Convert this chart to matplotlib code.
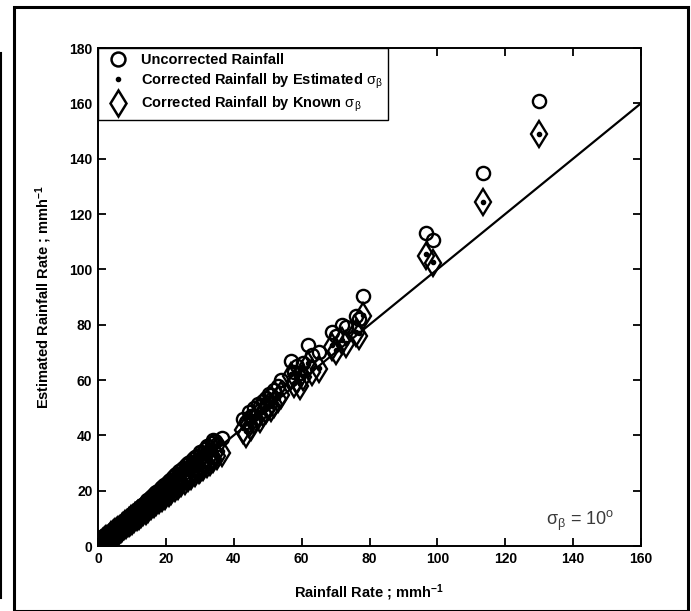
import matplotlib
matplotlib.use("Agg")
import matplotlib.pyplot as plt
from matplotlib.lines import Line2D
from matplotlib.patches import Rectangle

plt.rcParams['font.family'] = ['Liberation Sans', 'DejaVu Sans']
plt.rcParams['mathtext.fontset'] = 'custom'
plt.rcParams['mathtext.rm'] = 'Liberation Sans'
plt.rcParams['mathtext.it'] = 'Liberation Sans:italic'
plt.rcParams['mathtext.bf'] = 'Liberation Sans:bold'

# ---------------- data ----------------
rain_rate = [0.2, 0.4, 0.6, 0.8, 1.0, 1.3, 1.6, 1.9, 2.2, 2.5, 2.8, 3.1, 3.5, 3.9, 4.3,
             4.7, 5.1, 5.5, 6.0, 6.5, 7.0, 7.5, 8.0, 8.6, 9.2, 9.8, 10.4, 11.0, 11.7,
             12.4, 13.1, 13.8, 14.5, 15.3, 16.1, 16.9, 17.7, 18.5, 19.4, 20.3, 21.2,
             22.1, 23.0, 24.0, 25.0, 26.0, 27.0, 28.0, 29.2, 30.4, 31.5, 32.5, 33.5,
             34.5, 36.5,
             0.5, 1.1, 2.0, 3.0, 4.0, 5.0, 6.2, 7.2, 8.3, 9.5, 10.7, 12.0, 13.4, 14.8,
             16.5, 18.0, 19.8, 21.6, 23.5, 25.5, 27.5, 29.8, 31.0, 33.0, 35.0,
             0.3, 0.9, 1.5, 2.4, 3.3, 4.5, 5.6, 6.8, 7.8, 9.0, 10.1, 11.4, 12.8, 14.0,
             15.7, 17.2, 18.9, 20.8, 22.6, 24.5, 26.5, 28.6, 30.0, 32.0, 34.0,
             42.8, 43.5, 44.5, 45.2, 46.0, 47.0, 47.8, 48.5, 49.5, 50.3, 51.0, 52.0,
             53.0, 54.0, 57.0, 57.8, 58.5, 59.5, 60.5, 62.0, 63.0, 65.0, 69.0, 70.0,
             72.0, 73.0, 76.0, 77.0, 78.0, 96.6, 98.7, 113.4, 130.0]

uncorrected = [0.3, 0.5, 0.8, 1.0, 1.3, 1.6, 2.0, 2.3, 2.7, 3.0, 3.4, 3.7, 4.2, 4.6, 5.1,
               5.5, 6.0, 6.4, 7.0, 7.5, 8.1, 8.6, 9.2, 9.9, 10.5, 11.2, 11.9, 12.6, 13.4,
               14.1, 14.9, 15.7, 16.5, 17.4, 18.3, 19.2, 20.0, 20.9, 21.9, 22.9, 23.9,
               24.9, 25.9, 27.0, 28.1, 29.2, 30.3, 31.4, 32.7, 34.0, 35.2, 36.3, 37.4,
               38.0, 39.0,
               0.6, 1.2, 2.1, 3.2, 4.3, 5.3, 6.6, 7.6, 8.8, 10.0, 11.3, 12.7, 14.1, 15.6,
               17.4, 19.0, 20.9, 22.8, 24.8, 26.9, 29.0, 31.4, 32.7, 34.8, 36.9,
               0.4, 1.1, 1.8, 2.8, 3.8, 5.1, 6.3, 7.7, 8.8, 10.1, 11.4, 12.9, 14.4, 15.8,
               17.7, 19.4, 21.3, 23.5, 25.5, 27.6, 29.9, 32.2, 33.8, 36.0, 38.2,
               46.0, 45.0, 48.5, 47.0, 50.0, 51.5, 50.5, 52.5, 53.5, 55.0, 54.5, 56.5,
               58.0, 60.0, 67.0, 63.0, 65.0, 62.5, 66.0, 72.5, 69.0, 70.0, 77.5, 76.0,
               80.0, 79.0, 83.0, 82.0, 90.5, 113.0, 110.5, 134.8, 161.0]

corrected_est = [0.2, 0.4, 0.6, 0.8, 1.0, 1.3, 1.6, 1.9, 2.2, 2.5, 2.8, 3.1, 3.6, 3.9, 4.4,
                 4.8, 5.2, 5.6, 6.1, 6.6, 7.1, 7.6, 8.1, 8.7, 9.3, 9.9, 10.5, 11.2, 11.9,
                 12.6, 13.3, 14.0, 14.7, 15.5, 16.3, 17.1, 17.9, 18.7, 19.6, 20.5, 21.4,
                 22.3, 23.2, 24.2, 25.2, 26.2, 27.2, 28.2, 29.4, 30.6, 31.7, 32.7, 33.7,
                 34.7, 34.5,
                 0.4, 1.0, 1.8, 2.8, 3.7, 4.6, 5.8, 6.7, 7.7, 8.8, 9.9, 11.1, 12.4, 13.7,
                 15.3, 16.7, 18.4, 20.1, 21.9, 23.7, 25.6, 27.7, 28.8, 30.7, 32.6,
                 0.3, 0.9, 1.5, 2.4, 3.3, 4.5, 5.6, 6.8, 7.8, 9.0, 10.1, 11.4, 12.8, 14.0,
                 15.7, 17.2, 18.9, 20.8, 22.6, 24.5, 26.5, 28.6, 30.0, 32.0, 34.0,
                 42.5, 41.5, 44.5, 43.5, 46.0, 47.5, 46.5, 48.5, 49.5, 51.0, 50.5, 52.0,
                 53.5, 55.0, 62.0, 59.0, 60.5, 58.5, 61.5, 66.0, 64.0, 64.5, 72.5, 71.0,
                 74.5, 73.5, 77.5, 77.0, 83.5, 105.5, 102.5, 124.5, 149.0]

corrected_known = [0.2, 0.4, 0.5, 0.8, 0.9, 1.2, 1.5, 1.8, 2.1, 2.4, 2.7, 3.0, 3.4, 3.8, 4.2,
                   4.6, 5.0, 5.4, 5.9, 6.3, 6.8, 7.3, 7.8, 8.4, 9.0, 9.6, 10.1, 10.7, 11.4,
                   12.1, 12.8, 13.5, 14.1, 14.9, 15.7, 16.5, 17.3, 18.0, 18.9, 19.8, 20.7,
                   21.6, 22.4, 23.4, 24.4, 25.4, 26.3, 27.3, 28.5, 29.7, 30.7, 31.7, 32.7,
                   33.7, 33.6,
                   0.4, 0.9, 1.7, 2.7, 3.6, 4.5, 5.6, 6.5, 7.5, 8.6, 9.7, 10.9, 12.2, 13.5,
                   15.1, 16.5, 18.2, 19.9, 21.7, 23.5, 25.4, 27.5, 28.6, 30.5, 32.4,
                   0.2, 0.8, 1.3, 2.2, 3.0, 4.1, 5.1, 6.2, 7.1, 8.2, 9.2, 10.4, 11.7, 12.8,
                   14.4, 15.8, 17.4, 19.1, 20.8, 22.6, 24.4, 26.4, 27.7, 29.6, 31.5,
                   42.0, 40.5, 44.0, 43.0, 45.5, 47.0, 46.0, 48.0, 49.0, 50.5, 50.0, 51.5,
                   53.0, 54.5, 61.5, 58.5, 60.0, 58.0, 61.0, 65.5, 63.0, 64.0, 72.0, 70.5,
                   74.0, 73.0, 77.0, 76.0, 83.0, 105.0, 102.3, 124.3, 148.8]

one_to_one = [0, 160]

x_ticks = [0, 20, 40, 60, 80, 100, 120, 140, 160]
y_ticks = [0, 20, 40, 60, 80, 100, 120, 140, 160, 180]

legend_labels = ['Uncorrected Rainfall',
                 r'Corrected Rainfall by Estimated $\mathrm{\sigma_\beta}$',
                 r'Corrected Rainfall by Known $\mathrm{\sigma_\beta}$']

# ---------------- figure ----------------
fig = plt.figure(figsize=(6.91, 6.11), dpi=100)
ax = fig.add_axes([98/691, 1-546/611, (641-98)/691, (546-48)/611])

ax.plot(one_to_one, one_to_one, color='black', lw=1.6, zorder=2)
ax.plot(rain_rate, uncorrected, linestyle='none', marker='o', ms=9.5,
        mfc='none', mec='black', mew=1.7, zorder=3)
ax.plot(rain_rate, corrected_known, linestyle='none', marker='d', ms=13,
        mfc='none', mec='black', mew=1.7, zorder=3)
ax.plot(rain_rate, corrected_est, linestyle='none', marker='.', ms=6,
        color='black', zorder=4)

ax.set_xlim(0, 160)
ax.set_ylim(0, 180)
ax.set_xticks(x_ticks)
ax.set_yticks(y_ticks)
ax.tick_params(direction='in', length=6, width=1.3, top=True, right=True,
               labelsize=10, pad=4)
for lab in ax.get_xticklabels() + ax.get_yticklabels():
    lab.set_fontweight('bold')
for s in ax.spines.values():
    s.set_linewidth(1.4)

ax.set_xlabel(r'Rainfall Rate ; mmh$^{\mathbf{-1}}$', fontsize=10.5, fontweight='bold', labelpad=12)
ax.set_ylabel(r'Estimated Rainfall Rate ; mmh$^{\mathbf{-1}}$', fontsize=10.5, fontweight='bold', labelpad=11)

ax.text(142, 9, r'$\mathrm{\sigma_\beta}$ = 10$^\mathrm{o}$', fontsize=13, color='#3a3a3a',
        ha='center', va='center')

handles = [
    Line2D([], [], linestyle='none', marker='o', ms=10, mfc='none', mec='black', mew=1.8),
    Line2D([], [], linestyle='none', marker='.', ms=6, color='black'),
    Line2D([], [], linestyle='none', marker='d', ms=13, mfc='none', mec='black', mew=1.8),
]
leg = ax.legend(handles, legend_labels, loc='upper left', fancybox=False,
                framealpha=1, edgecolor='black', borderaxespad=0,
                prop={'weight': 'bold', 'size': 10.5}, handletextpad=0.6,
                labelspacing=0.3, borderpad=0.35, handlelength=2.0)
leg.get_frame().set_linewidth(1.0)

# outer frame of the figure
fig.add_artist(Rectangle((14/691, 0.0), (688-14)/691, 1-7/611, transform=fig.transFigure,
                         fill=False, edgecolor='black', lw=2.2))
fig.add_artist(Line2D([1/691, 1/691], [1-53/611, 1-598/611], transform=fig.transFigure,
                      color='black', lw=1.5))

fig.savefig('out.png', dpi=100)
